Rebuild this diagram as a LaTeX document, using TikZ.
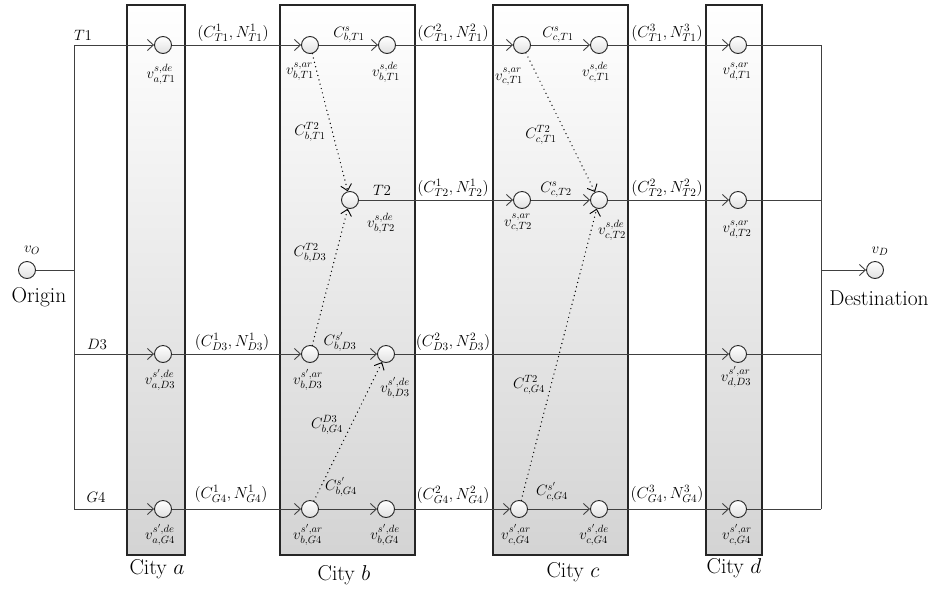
\RequirePackage{fix-cm}
\documentclass[tikz,border=0pt]{standalone}
\usetikzlibrary{arrows.meta, positioning}

\begin{document}
\begin{tikzpicture}[
  x=1pt, y=-1pt,
  city/.style={draw=black!85, line width=1.1pt, top color=white, bottom color=black!17, inner sep=0pt, minimum width=#1, minimum height=550pt},
  stop/.style={circle, draw=black!85, line width=0.9pt, top color=white, bottom color=black!12, minimum size=17pt, inner sep=0pt},
  arrow/.style={-{Straight Barb[length=6pt, width=11pt, line width=0.9pt]}, line width=0.9pt, draw=black!75},
  link/.style={line width=0.9pt, draw=black!75},
  transfer/.style={-{Straight Barb[length=6pt, width=11pt, line width=0.9pt]}, line width=1.4pt, line cap=round, dash pattern=on 0pt off 4.5pt},
  lbl/.style={font=\fontsize{15}{17}\selectfont, inner sep=0pt},
  pair/.style={font=\fontsize{16}{18}\selectfont, inner sep=0pt},
  vlbl/.style={font=\fontsize{15}{17}\selectfont, inner sep=0pt},
  big/.style={font=\fontsize{21.5}{24}\selectfont, inner sep=0pt}
]
  \useasboundingbox (0,0) rectangle (932,590);

  \node[city=58pt] (cityA) at (156,280) {};
  \node[city=135pt] (cityB) at (347.5,280) {};
  \node[city=135pt] (cityC) at (560.5,280) {};
  \node[city=56pt] (cityD) at (734,280) {};

  \node[big] (nameA) at (157,569) {City $a$};
  \node[big] (nameB) at (344,575) {City $b$};
  \node[big] (nameC) at (573,572) {City $c$};
  \node[big] (nameD) at (734,568) {City $d$};

  \node[stop] (orig) at (27,270) {};
  \node[stop] (dest) at (875,270) {};
  \node[lbl] (vO) at (32,250) {$v_O$};
  \node[lbl] (vD) at (880,251) {$v_D$};
  \node[big] (origin) at (39,297) {Origin};
  \node[big] (destination) at (879,298) {Destination};

  \node[stop] (aT1) at (163,45) {};
  \node[stop] (bT1a) at (310,45) {};
  \node[stop] (bT1d) at (387,45) {};
  \node[stop] (cT1a) at (522,45) {};
  \node[stop] (cT1d) at (599,45) {};
  \node[stop] (dT1) at (738,45) {};

  \node[stop] (bT2) at (350,200) {};
  \node[stop] (cT2a) at (522,200) {};
  \node[stop] (cT2d) at (599,200) {};
  \node[stop] (dT2) at (738,200) {};

  \node[stop] (aD3) at (163,354) {};
  \node[stop] (bD3a) at (310,354) {};
  \node[stop] (bD3d) at (386,354) {};
  \node[stop] (dD3) at (738,354) {};

  \node[stop] (aG4) at (163,509) {};
  \node[stop] (bG4a) at (310,509) {};
  \node[stop] (bG4d) at (386,509) {};
  \node[stop] (cG4a) at (519,509) {};
  \node[stop] (cG4d) at (599,509) {};
  \node[stop] (dG4) at (738,509) {};

  \coordinate (lO) at (74,270);
  \coordinate (lT1) at (74,45);
  \coordinate (lD3) at (74,354);
  \coordinate (lG4) at (74,509);
  \coordinate (rD) at (821,270);
  \coordinate (rT1) at (821,45);
  \coordinate (rT2) at (821,200);
  \coordinate (rD3) at (821,354);
  \coordinate (rG4) at (821,509);

  \draw[link] (orig) -- (lO);
  \draw[link] (lT1) -- (lG4);
  \draw[link] (rT1) -- (rG4);
  \draw[arrow] (rD) -- (dest);

  \draw[arrow] (lT1) -- (aT1);
  \draw[arrow] (aT1) -- (bT1a);
  \draw[arrow] (bT1a) -- (bT1d);
  \draw[arrow] (bT1d) -- (cT1a);
  \draw[arrow] (cT1a) -- (cT1d);
  \draw[arrow] (cT1d) -- (dT1);
  \draw[link] (dT1) -- (rT1);

  \draw[arrow] (bT2) -- (cT2a);
  \draw[arrow] (cT2a) -- (cT2d);
  \draw[arrow] (cT2d) -- (dT2);
  \draw[link] (dT2) -- (rT2);

  \draw[arrow] (lD3) -- (aD3);
  \draw[arrow] (aD3) -- (bD3a);
  \draw[arrow] (bD3a) -- (bD3d);
  \draw[arrow] (bD3d) -- (dD3);
  \draw[link] (dD3) -- (rD3);

  \draw[arrow] (lG4) -- (aG4);
  \draw[arrow] (aG4) -- (bG4a);
  \draw[arrow] (bG4a) -- (bG4d);
  \draw[arrow] (bG4d) -- (cG4a);
  \draw[arrow] (cG4a) -- (cG4d);
  \draw[arrow] (cG4d) -- (dG4);
  \draw[link] (dG4) -- (rG4);

  \draw[transfer] (bT1a) -- (bT2);
  \draw[transfer] (cT1a) -- (cT2d);
  \draw[transfer] (bD3a) -- (bT2);
  \draw[transfer] (bG4a) -- (bD3d);
  \draw[transfer] (cG4a) -- (cT2d);

  \node[lbl] (nT1) at (83,35) {$T1$};
  \node[lbl] (nT2) at (382,190) {$T2$};
  \node[lbl] (nD3) at (97,344) {$D3$};
  \node[lbl] (nG4) at (96,497) {$G4$};

  \node[pair] (pT1a) at (233,33) {$(C^1_{T1}, N^1_{T1})$};
  \node[pair] (pT1b) at (453,33) {$(C^2_{T1}, N^2_{T1})$};
  \node[pair] (pT1c) at (667,33) {$(C^3_{T1}, N^3_{T1})$};
  \node[pair] (pT2a) at (453,188) {$(C^1_{T2}, N^1_{T2})$};
  \node[pair] (pT2b) at (667,188) {$(C^2_{T2}, N^2_{T2})$};
  \node[pair] (pD3a) at (232,342) {$(C^1_{D3}, N^1_{D3})$};
  \node[pair] (pD3b) at (453,342) {$(C^2_{D3}, N^2_{D3})$};
  \node[pair] (pG4a) at (231,494) {$(C^1_{G4}, N^1_{G4})$};
  \node[pair] (pG4b) at (453,495) {$(C^2_{G4}, N^2_{G4})$};
  \node[pair] (pG4c) at (667,494) {$(C^3_{G4}, N^3_{G4})$};

  \node[lbl] (sbT1) at (349,35) {$C^s_{b,T1}$};
  \node[lbl] (scT1) at (558,35) {$C^s_{c,T1}$};
  \node[lbl] (scT2) at (556,190) {$C^s_{c,T2}$};
  \node[lbl] (sbD3) at (340,342) {$C^{s'}_{b,D3}$};
  \node[lbl] (sbG4) at (341,487) {$C^{s'}_{b,G4}$};
  \node[lbl] (scG4) at (552,492) {$C^{s'}_{c,G4}$};

  \node[lbl] (xbT1) at (310,132) {$C^{T2}_{b,T1}$};
  \node[lbl] (xcT1) at (541,135) {$C^{T2}_{c,T1}$};
  \node[lbl] (xbD3) at (310,253) {$C^{T2}_{b,D3}$};
  \node[lbl] (xbG4) at (327,425) {$C^{D3}_{b,G4}$};
  \node[lbl] (xcG4) at (529,385) {$C^{T2}_{c,G4}$};

  \node[vlbl] (vaT1) at (161,74) {$v^{s,de}_{a,T1}$};
  \node[vlbl] (vbT1a) at (300,72) {$v^{s,ar}_{b,T1}$};
  \node[vlbl] (vbT1d) at (386,72) {$v^{s,de}_{b,T1}$};
  \node[vlbl] (vcT1a) at (509,77) {$v^{s,ar}_{c,T1}$};
  \node[vlbl] (vcT1d) at (596,72) {$v^{s,de}_{c,T1}$};
  \node[vlbl] (vdT1) at (737,72) {$v^{s,ar}_{d,T1}$};
  \node[vlbl] (vbT2) at (381,223) {$v^{s,de}_{b,T2}$};
  \node[vlbl] (vcT2a) at (518,223) {$v^{s,ar}_{c,T2}$};
  \node[vlbl] (vcT2d) at (612,230) {$v^{s,de}_{c,T2}$};
  \node[vlbl] (vdT2) at (737,230) {$v^{s,ar}_{d,T2}$};
  \node[vlbl] (vaD3) at (160,380) {$v^{s',de}_{a,D3}$};
  \node[vlbl] (vbD3a) at (308,380) {$v^{s',ar}_{b,D3}$};
  \node[vlbl] (vbD3d) at (395,388) {$v^{s',de}_{b,D3}$};
  \node[vlbl] (vdD3) at (736,377) {$v^{s',ar}_{d,D3}$};
  \node[vlbl] (vaG4) at (160,535) {$v^{s',de}_{a,G4}$};
  \node[vlbl] (vbG4a) at (308,535) {$v^{s',ar}_{b,G4}$};
  \node[vlbl] (vbG4d) at (385,535) {$v^{s',de}_{b,G4}$};
  \node[vlbl] (vcG4a) at (516,535) {$v^{s',ar}_{c,G4}$};
  \node[vlbl] (vcG4d) at (594,535) {$v^{s',de}_{c,G4}$};
  \node[vlbl] (vdG4) at (737,535) {$v^{s',ar}_{c,G4}$};
\end{tikzpicture}
\end{document}
